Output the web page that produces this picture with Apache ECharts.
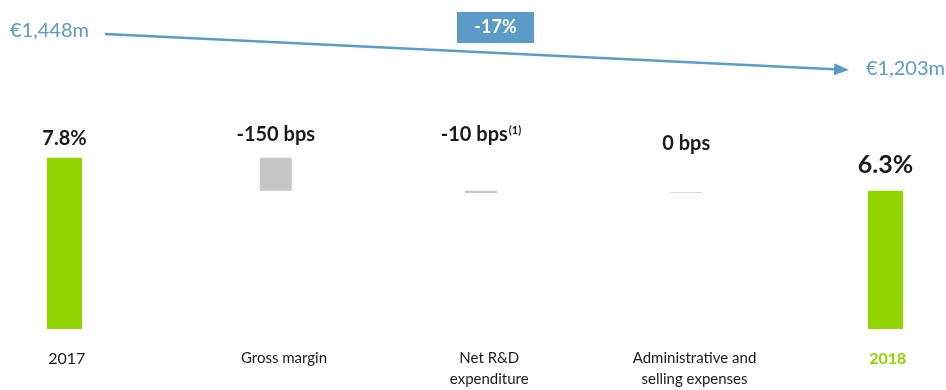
<!DOCTYPE html>
<html>
<head>
<meta charset="utf-8">
<script src="https://cdn.jsdelivr.net/npm/echarts@6/dist/echarts.min.js"></script>
<style>
  html, body { margin: 0; padding: 0; background: #ffffff; }
  #chart { width: 946px; height: 390px; }
</style>
</head>
<body>
<div id="chart"></div>
<script>
// EBIT margin bridge 2017 -> 2018
const categories = ['2017', 'Gross margin', 'Net R&D\nexpenditure', 'Administrative and\nselling expenses', '2018'];
const marginValues = [7.8, 6.3];          // % margin, start and end year
const bridgeChanges = [-150, -10, 0];      // bps, one per driver
const bridgeNotes = ['', '(1)', ''];       // footnote markers on the driver labels
const revenueValues = [1448, 1203];        // €m, start and end year

const GREEN = '#92d400';
const GREY = '#c6c6c6';
const GREY_LIGHT = '#dadada';
const BLUE = '#5b9bc6';
const INK = '#1a1a1a';
const FONT = 'Lato';

// Totals sit on the first and last category; drivers float in between.
const totalData = categories.map((c, i) =>
  i === 0 ? marginValues[0] : (i === categories.length - 1 ? marginValues[1] : '-'));

const baseData = ['-'];
const changeData = ['-'];
let level = marginValues[0];
bridgeChanges.forEach((bps) => {
  const after = Math.round((level + bps / 100) * 100) / 100;
  baseData.push(Math.min(level, after));
  changeData.push(Math.round(Math.abs(bps) / 100 * 100) / 100);
  level = after;
});
baseData.push('-');
changeData.push('-');

// label gaps above each bar (px)
const totalLabelGap = [7, 11];
const changeLabelGap = [11, 44, 36];

const fmtMoney = (v) => '€' + v.toLocaleString('en-US') + 'm';
const revenueChange = Math.round((revenueValues[1] / revenueValues[0] - 1) * 100);

const chart = echarts.init(document.getElementById('chart'), null, { renderer: 'canvas' });

// arrow geometry for the revenue annotation
const lineStart = [105, 34];
const tip = [849, 70];
const dx = tip[0] - lineStart[0], dy = tip[1] - lineStart[1];
const len = Math.hypot(dx, dy);
const ux = dx / len, uy = dy / len;
const headLen = 15, headHalf = 6;
const baseC = [tip[0] - ux * headLen, tip[1] - uy * headLen];

const option = {
  animation: false,
  backgroundColor: '#ffffff',
  textStyle: { fontFamily: FONT },
  grid: { left: 66.75, right: 58.25, top: 109.5, bottom: 60, containLabel: false },
  xAxis: {
    type: 'category',
    data: categories,
    boundaryGap: false,
    axisLine: { show: false },
    axisTick: { show: false },
    splitLine: { show: false },
    axisLabel: {
      interval: 0,
      margin: 19,
      color: INK,
      fontFamily: FONT,
      fontSize: 15,
      lineHeight: 21,
      formatter: (value, idx) => {
        if (idx === 0) return '{yr|' + value + '}';
        if (idx === categories.length - 1) return '{hl|' + value + '}';
        return value.split('\n').map((l) => '{m|' + l + '}').join('\n');
      },
      rich: {
        yr: { fontSize: 16, color: INK, fontFamily: FONT, lineHeight: 21 },
        hl: { fontSize: 16, color: GREEN, fontWeight: 'bold', fontFamily: FONT, lineHeight: 21 },
        m: { fontSize: 15, color: INK, fontFamily: FONT, lineHeight: 21, padding: [0, 0, 0, 24] }
      }
    }
  },
  yAxis: {
    type: 'value',
    min: 0,
    max: 10,
    show: false
  },
  series: [
    {
      name: 'Margin',
      type: 'bar',
      barWidth: 35,
      barGap: '-78.57%',
      clip: false,
      itemStyle: { color: GREEN },
      data: totalData.map((v, i) => {
        if (v === '-') return v;
        const last = i === categories.length - 1;
        return {
          value: v,
          label: {
            show: true,
            position: 'top',
            distance: totalLabelGap[last ? 1 : 0],
            fontSize: last ? 25 : 20,
            lineHeight: last ? 30 : 24,
            fontWeight: 'bold',
            color: INK,
            fontFamily: FONT,
            formatter: (p) => p.value.toFixed(1) + '%'
          }
        };
      })
    },
    {
      name: 'Base',
      type: 'bar',
      stack: 'bridge',
      barWidth: 32,
      barGap: '-78.57%',
      clip: false,
      silent: true,
      itemStyle: { color: 'transparent' },
      data: baseData
    },
    {
      name: 'Change',
      type: 'bar',
      stack: 'bridge',
      barWidth: 32,
      barGap: '-78.57%',
      barMinHeight: 1,
      clip: false,
      data: changeData.map((v, i) => {
        if (v === '-') return v;
        const k = i - 1;
        return {
          value: v,
          itemStyle: { color: bridgeChanges[k] === 0 ? GREY_LIGHT : GREY },
          label: {
            show: true,
            position: 'top',
            distance: changeLabelGap[k],
            formatter: () => '{v|' + bridgeChanges[k] + ' bps}' + (bridgeNotes[k] ? '{s|' + bridgeNotes[k] + '}' : ''),
            rich: {
              v: { fontSize: 20, lineHeight: 24, fontWeight: 'bold', color: INK, fontFamily: FONT },
              s: { fontSize: 11, lineHeight: 24, fontWeight: 'bold', color: INK, fontFamily: FONT, verticalAlign: 'top', padding: [2, 0, 0, 1] }
            }
          }
        };
      })
    }
  ],
  graphic: [
    {
      type: 'line',
      shape: { x1: lineStart[0], y1: lineStart[1], x2: baseC[0], y2: baseC[1] },
      style: { stroke: BLUE, lineWidth: 2.5 }
    },
    {
      type: 'polygon',
      shape: {
        points: [
          tip,
          [baseC[0] - uy * headHalf, baseC[1] + ux * headHalf],
          [baseC[0] + uy * headHalf, baseC[1] - ux * headHalf]
        ]
      },
      style: { fill: BLUE }
    },
    {
      type: 'text',
      left: 10,
      top: 21,
      style: { text: fmtMoney(revenueValues[0]), fill: BLUE, font: '20px ' + FONT }
    },
    {
      type: 'text',
      left: 866,
      top: 59,
      style: { text: fmtMoney(revenueValues[1]), fill: BLUE, font: '20px ' + FONT }
    },
    {
      type: 'group',
      left: 457,
      top: 12,
      children: [
        { type: 'rect', shape: { x: 0, y: 0, width: 77, height: 31 }, style: { fill: BLUE } },
        {
          type: 'text',
          x: 38.5,
          y: 15.5,
          style: {
            text: revenueChange + '%',
            fill: '#ffffff',
            font: 'bold 18px ' + FONT,
            align: 'center',
            verticalAlign: 'middle'
          }
        }
      ]
    }
  ]
};

chart.setOption(option);
</script>
</body>
</html>
